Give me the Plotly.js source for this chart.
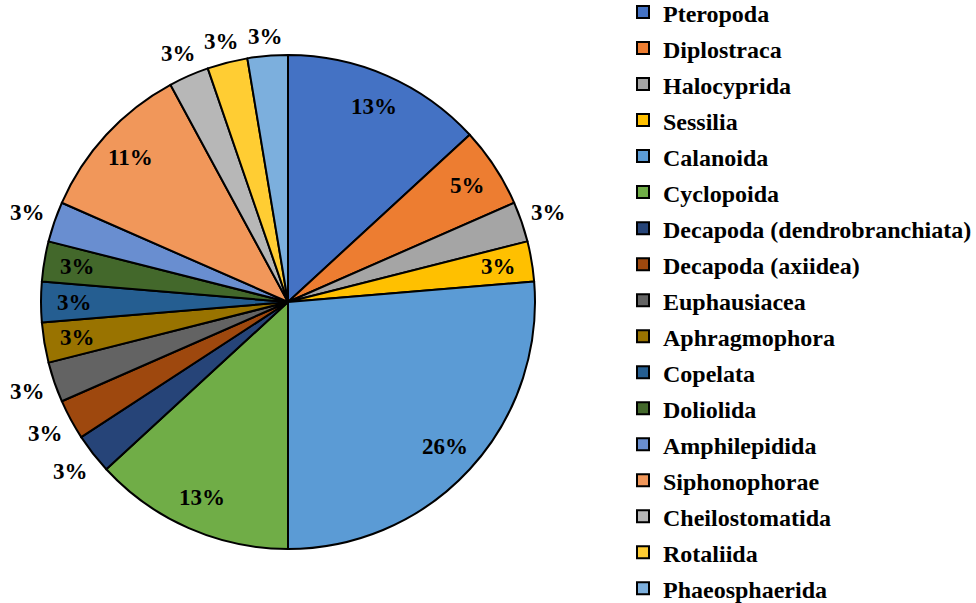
<!DOCTYPE html>
<html><head><meta charset="utf-8">
<script src="https://cdn.plot.ly/plotly-3.0.1.min.js"></script>
<style>html,body{margin:0;padding:0;background:#fff}</style>
</head><body><div id="chart" style="width:976px;height:603px"></div>
<script>
// ---- data ----
const categories = ['Pteropoda','Diplostraca','Halocyprida','Sessilia','Calanoida','Cyclopoida',
  'Decapoda (dendrobranchiata)','Decapoda (axiidea)','Euphausiacea','Aphragmophora','Copelata',
  'Doliolida','Amphilepidida','Siphonophorae','Cheilostomatida','Rotaliida','Phaeosphaerida'];
const counts = [5,2,1,1,10,5,1,1,1,1,1,1,1,4,1,1,1];

// ---- style ----
const sliceColors = ['#4472C4','#ED7D31','#A5A5A5','#FFC000','#5B9BD5','#70AD47','#264478','#9E480E',
  '#636363','#997300','#255E91','#43682B','#698ED0','#F1975A','#B7B7B7','#FFCD33','#7CAFDD'];
const labelInside = [true,true,false,true,true,true,false,false,false,true,true,true,false,true,false,false,false];

const W = 976, H = 603, cx = 288, cy = 302, R = 247;
const total = counts.reduce((a,b)=>a+b,0);
const fontFam = 'Liberation Serif';

const annotations = [];
let cum = 0;
counts.forEach((v,i)=>{
  const mid = (cum + v/2)/total*2*Math.PI;
  cum += v;
  const s = Math.sin(mid), c = Math.cos(mid);
  const r = labelInside[i] ? 0.866*R : R + 9 + 18*Math.abs(s) + 9*Math.abs(c);
  annotations.push({
    xref:'paper', yref:'paper', x:(cx + r*s)/W, y:1-(cy - r*c)/H,
    xanchor:'center', yanchor:'middle', showarrow:false,
    text: Math.round(v/total*100)+'%',
    font:{family:fontFam, size:23, color:'#000', weight:'bold'}
  });
});

const trace = {
  type:'pie', values:counts,
  labels:categories.map(n=>'<span style="font-size:24px">'+n+'</span>'),
  sort:false, direction:'clockwise', rotation:0,
  textinfo:'none', hoverinfo:'label+percent',
  marker:{colors:sliceColors, line:{color:'#000', width:2}},
  domain:{x:[(cx-R)/W,(cx+R)/W], y:[1-(cy+R)/H, 1-(cy-R)/H]}
};

const layout = {
  width:W, height:H, margin:{l:0,r:0,t:0,b:0, autoexpand:false},
  paper_bgcolor:'#fff', plot_bgcolor:'#fff',
  font:{family:fontFam},
  showlegend:true,
  legend:{x:623/W, xanchor:'left', y:1+11/H, yanchor:'top', maxheight:1000,
    font:{family:fontFam, size:25.4, color:'#000', weight:'bold'}, bgcolor:'rgba(0,0,0,0)'},
  annotations:annotations
};
Plotly.newPlot('chart',[trace],layout,{displayModeBar:false, staticPlot:true});
</script></body></html>
